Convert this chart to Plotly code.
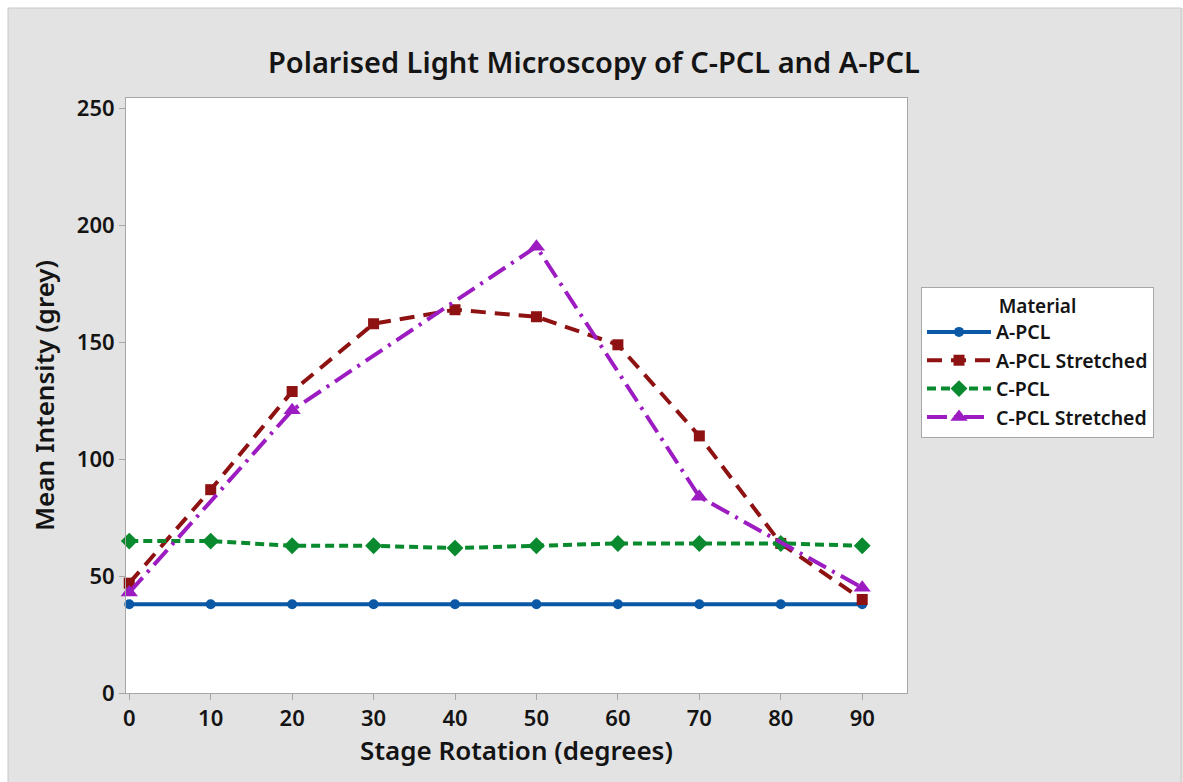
import plotly.graph_objects as go

# Stage rotation angles (degrees)
rotation = [0, 10, 20, 30, 40, 50, 60, 70, 80, 90]

# Mean intensity (grey value) per material
a_pcl = [38, 38, 38, 38, 38, 38, 38, 38, 38, 38]
a_pcl_stretched = [47, 87, 129, 158, 164, 161, 149, 110, 64, 40]
c_pcl = [65, 65, 63, 63, 62, 63, 64, 64, 64, 63]
c_pcl_stretched = [43, None, 121, None, None, 191, None, 84, None, 45]

x_ticks = [0, 10, 20, 30, 40, 50, 60, 70, 80, 90]
y_ticks = [0, 50, 100, 150, 200, 250]

FONT = "Noto Sans"
W, H = 1183, 782
ML, MR, MT, MB = 126, 276, 98, 89

series = [
    ("A-PCL", a_pcl, "#0b58a6", "solid", "circle", 10),
    ("A-PCL Stretched", a_pcl_stretched, "#8e1212", "15px,9px", "square", 11),
    ("C-PCL", c_pcl, "#0a8a2e", "9px,5px", "diamond", 13),
    ("C-PCL Stretched", c_pcl_stretched, "#9c1cc2", "20px,7px,3px,7px", "triangle-up", 15),
]

fig = go.Figure()
for name, vals, color, dash, symbol, size in series:
    fig.add_trace(go.Scatter(
        x=rotation, y=vals, name=name, mode="lines+markers",
        connectgaps=True,
        line=dict(color=color, width=4, dash=dash),
        marker=dict(symbol=symbol, size=size, color=color, line=dict(width=0)),
        cliponaxis=False,
    ))

# paper-coordinate helpers (relative to the plot area)
pw = W - ML - MR
ph = H - MT - MB
def px_x(p):
    return (p - ML) / pw
def px_y(p):
    return (H - MB - p) / ph

shapes = [
    # white strips along the top and left edges
    dict(type="rect", xref="paper", yref="paper", x0=px_x(0), x1=px_x(W), y0=px_y(0), y1=px_y(8),
         fillcolor="white", line=dict(width=0), layer="below"),
    dict(type="rect", xref="paper", yref="paper", x0=px_x(0), x1=px_x(8), y0=px_y(H), y1=px_y(0),
         fillcolor="white", line=dict(width=0), layer="below"),
    dict(type="rect", xref="paper", yref="paper", x0=px_x(8), x1=px_x(1181), y0=px_y(H + 2), y1=px_y(8),
         fillcolor="rgba(0,0,0,0)", line=dict(width=1, color="#c8c8c8"), layer="below"),
]

TXT = "#141414"

fig.update_layout(
    width=W, height=H,
    margin=dict(l=ML, r=MR, t=MT, b=MB),
    paper_bgcolor="#e3e3e3",
    plot_bgcolor="white",
    font=dict(family=FONT, color=TXT, size=17, weight=600),
    title=dict(text="Polarised Light Microscopy of C-PCL and A-PCL",
               x=0.502, xanchor="center", y=1 - 63 / H, yanchor="middle",
               font=dict(size=29, family=FONT, color=TXT, weight=600)),
    shapes=shapes,
    showlegend=True,
    legend=dict(
        title=dict(text="Material", side="top center", font=dict(size=19, weight=600)),
        x=px_x(921), xanchor="left", y=px_y(287), yanchor="top",
        bgcolor="white", bordercolor="#a8a8a8", borderwidth=1,
        font=dict(size=19.5, color=TXT, weight=600),
        itemwidth=64, tracegroupgap=0,
    ),
    xaxis=dict(
        range=[-0.4, 95.5], tickvals=x_ticks, ticktext=[str(v) for v in x_ticks],
        showgrid=False, zeroline=False,
        showline=True, linecolor="#a6a6a6", linewidth=1, mirror=True,
        ticks="outside", ticklen=6, tickcolor="#a6a6a6",
        tickfont=dict(size=22, weight=600),
        title=dict(text="Stage Rotation (degrees)", font=dict(size=26, weight=600), standoff=5),
    ),
    yaxis=dict(
        range=[0, 254.6], tickvals=y_ticks, ticktext=[str(v) for v in y_ticks],
        showgrid=False, zeroline=False,
        showline=True, linecolor="#a6a6a6", linewidth=1, mirror=True,
        ticks="outside", ticklen=6, tickcolor="#a6a6a6",
        tickfont=dict(size=22, weight=600),
        title=dict(text="Mean Intensity (grey)", font=dict(size=26, weight=600), standoff=14),
    ),
)

fig.write_html("out.html")
